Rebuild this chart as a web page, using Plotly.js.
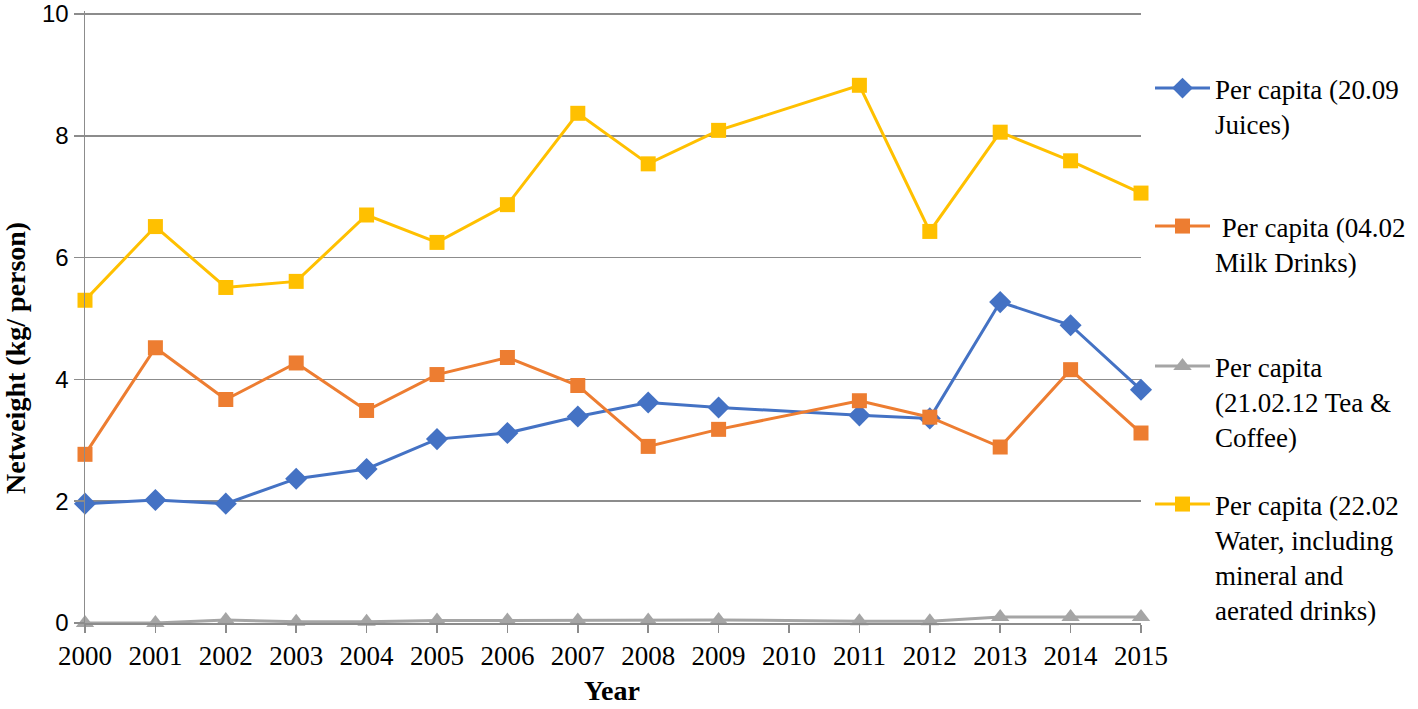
<!DOCTYPE html>
<html>
<head>
<meta charset="utf-8">
<script src="https://cdn.plot.ly/plotly-3.0.1.min.js"></script>
<style>html,body{margin:0;padding:0;background:#fff;}#chart{width:1418px;height:709px;}</style>
</head>
<body>
<div id="chart"></div>
<script>
var years = [2000, 2001, 2002, 2003, 2004, 2005, 2006, 2007, 2008, 2009, 2010, 2011, 2012, 2013, 2014, 2015];
var juices = [1.96, 2.02, 1.96, 2.37, 2.53, 3.02, 3.12, 3.39, 3.62, 3.54, null, 3.41, 3.36, 5.27, 4.89, 3.83];
var milk = [2.77, 4.52, 3.67, 4.27, 3.49, 4.08, 4.36, 3.90, 2.90, 3.18, null, 3.65, 3.38, 2.89, 4.16, 3.12];
var teaCoffee = [0.00, 0.00, 0.05, 0.02, 0.02, 0.04, 0.04, 0.04, 0.04, 0.05, null, 0.03, 0.03, 0.10, 0.10, 0.10];
var water = [5.30, 6.51, 5.51, 5.61, 6.70, 6.25, 6.87, 8.37, 7.54, 8.09, null, 8.83, 6.43, 8.06, 7.59, 7.06];
var seriesNames = [
  'Per capita (20.09<br>Juices)',
  ' Per capita (04.02<br>Milk Drinks)',
  'Per capita<br>(21.02.12 Tea &amp;<br>Coffee)',
  'Per capita (22.02<br>Water, including<br>mineral and<br>aerated drinks)'
];
var xTitle = 'Year';
var yTitle = 'Netweight (kg/ person)';

var serif = 'Liberation Serif, Times New Roman, serif';
var sans = 'Liberation Sans, Arial, sans-serif';
var grid = '#8c8c8c';

function tr(y, name, color, symbol, size, leg) {
  return {
    x: years, y: y, name: name, type: 'scatter', mode: 'lines+markers',
    connectgaps: true, cliponaxis: false, legend: leg,
    line: {color: color, width: 3},
    marker: {color: color, symbol: symbol, size: size}
  };
}

var data = [
  tr(juices, seriesNames[0], '#4472C4', 'diamond', 17, 'legend'),
  tr(milk, seriesNames[1], '#ED7D31', 'square', 15, 'legend2'),
  tr(teaCoffee, seriesNames[2], '#A5A5A5', 'triangle-up', 16, 'legend3'),
  tr(water, seriesNames[3], '#FFC000', 'square', 15, 'legend4')
];

function leg(topPx) {
  return {
    xref: 'container', yref: 'container', x: 1150 / 1418, y: 1 - topPx / 709,
    xanchor: 'left', yanchor: 'top', valign: 'top', itemwidth: 55,
    bgcolor: 'rgba(0,0,0,0)', borderwidth: 0,
    font: {family: serif, size: 27, color: '#000'}
  };
}

var layout = {
  width: 1418, height: 709,
  margin: {l: 85, r: 277, t: 11, b: 86},
  paper_bgcolor: '#fff', plot_bgcolor: '#fff',
  showlegend: true,
  xaxis: {
    type: 'linear', range: [2000, 2015], tick0: 2000, dtick: 1,
    showgrid: false, zeroline: false, showline: true, linecolor: grid, linewidth: 1.5,
    ticks: 'outside', ticklen: 8, tickcolor: grid, tickwidth: 1.5,
    tickfont: {family: serif, size: 27, color: '#000'}
  },
  yaxis: {
    range: [0, 10.05], dtick: 2, tick0: 0,
    showgrid: true, gridcolor: grid, gridwidth: 1.5,
    zeroline: false, showline: true, linecolor: grid, linewidth: 1.5,
    ticks: 'outside', ticklen: 10, tickcolor: grid, tickwidth: 1.5,
    ticklabeloverflow: 'allow',
    tickfont: {family: sans, size: 24, color: '#000'}
  },
  annotations: [{
    text: '<b>' + yTitle + '</b>', textangle: -90, showarrow: false,
    xref: 'paper', yref: 'paper', x: -(85 - 15) / 1056, y: (623 - 358) / 612,
    xanchor: 'center', yanchor: 'middle',
    font: {family: serif, size: 28, color: '#000'}
  }, {
    text: '<b>' + xTitle + '</b>', showarrow: false,
    xref: 'paper', yref: 'paper', x: (612 - 85) / 1056, y: (623 - 690) / 612,
    xanchor: 'center', yanchor: 'middle',
    font: {family: serif, size: 28, color: '#000'}
  }],
  legend: leg(64),
  legend2: leg(202),
  legend3: leg(342),
  legend4: leg(480)
};

Plotly.newPlot('chart', data, layout, {displayModeBar: false, staticPlot: true});
</script>
</body>
</html>
